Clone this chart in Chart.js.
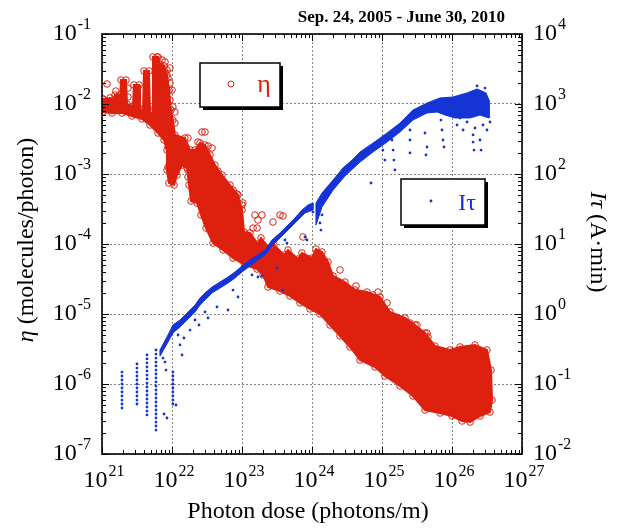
<!DOCTYPE html>
<html><head><meta charset="utf-8">
<script src="https://cdn.jsdelivr.net/npm/chart.js@4/dist/chart.umd.min.js"></script>
<style>html,body{margin:0;padding:0;background:#fff}canvas{display:block}</style>
</head><body>
<canvas id="c" width="621" height="528"></canvas>
<script>
// ---------- axis ranges and tick labels ----------
const xTickValues = [1e21, 1e22, 1e23, 1e24, 1e25, 1e26, 1e27];
const xTickExps   = ['21', '22', '23', '24', '25', '26', '27'];
const etaTickValues = [1e-7, 1e-6, 1e-5, 1e-4, 1e-3, 1e-2, 1e-1];
const etaTickExps   = ['-7', '-6', '-5', '-4', '-3', '-2', '-1'];
const itTickValues = [1e-2, 1e-1, 1e0, 1e1, 1e2, 1e3, 1e4];
const itTickExps   = ['-2', '-1', '0', '1', '2', '3', '4'];
const minorMultipliers = [2, 3, 4, 5, 6, 7, 8, 9];

const titleText = 'Sep. 24, 2005 - June 30, 2010';
const xTitle = 'Photon dose (photons/m)';

// ---------- η (molecules/photon): dense band outline (upper edge, lower edge) ----------
const etaBandUpperX = [1.03e21,1.30e21,1.48e21,1.53e21,1.75e21,1.81e21,1.87e21,2.20e21,2.28e21,2.77e21,2.86e21,3.38e21,3.49e21,3.85e21,3.98e21,4.69e21,4.85e21,5.18e21,5.35e21,6.31e21,6.74e21,7.69e21,8.48e21,9.06e21,9.67e21,1.03e22,1.10e22,1.53e22,1.81e22,2.13e22,2.51e22,2.96e22,3.49e22,4.11e22,5.18e22,6.74e22,8.77e22,1.00e23,1.07e23,1.30e23,1.69e23,1.87e23,2.51e23,2.86e23,3.98e23,4.54e23,6.31e23,7.20e23,1.00e24,1.14e24,1.39e24,1.69e24,2.00e24,2.96e24,4.11e24,6.11e24,9.36e24,1.30e25,2.13e25,2.96e25,4.11e25,5.71e25,9.36e25,1.30e26,2.13e26,3.16e26,3.61e26,3.73e26];
const etaBandUpperY = [1.18e-2,1.22e-2,1.14e-2,1.34e-2,1.34e-2,1.07e-2,2.20e-2,2.20e-2,1.00e-2,9.36e-3,1.87e-2,1.87e-2,8.48e-3,8.21e-3,2.96e-2,2.96e-2,7.69e-3,7.44e-3,4.69e-2,4.69e-2,3.73e-2,3.49e-2,2.60e-2,1.58e-2,8.21e-3,5.90e-3,3.61e-3,3.27e-3,2.20e-3,2.20e-3,2.77e-3,2.60e-3,1.87e-3,1.34e-3,9.67e-4,6.96e-4,5.01e-4,3.06e-4,1.48e-4,1.44e-4,1.00e-4,1.22e-4,8.48e-5,9.67e-5,6.96e-5,8.21e-5,6.11e-5,7.44e-5,6.31e-5,8.48e-5,7.69e-5,5.53e-5,3.49e-5,2.86e-5,2.20e-5,2.06e-5,1.75e-5,1.07e-5,8.77e-6,6.96e-6,5.35e-6,3.49e-6,3.06e-6,3.38e-6,3.61e-6,3.06e-6,1.58e-6,5.90e-7];
const etaBandLowerX = [1.03e21,1.39e21,1.93e21,2.68e21,3.73e21,4.85e21,6.31e21,7.69e21,8.48e21,8.48e21,9.06e21,1.07e22,1.18e22,1.39e22,1.64e22,1.75e22,1.87e22,2.28e22,2.60e22,3.06e22,3.85e22,5.35e22,7.44e22,1.10e23,1.64e23,2.00e23,2.35e23,3.49e23,4.85e23,6.74e23,9.36e23,1.30e24,1.81e24,2.51e24,3.49e24,4.85e24,7.94e24,1.10e25,1.81e25,2.77e25,4.11e25,6.74e25,1.00e26,1.39e26,1.81e26,2.51e26,3.49e26];
const etaBandLowerY = [7.69e-3,7.44e-3,7.44e-3,6.74e-3,6.11e-3,5.01e-3,3.85e-3,3.06e-3,2.20e-3,1.14e-3,7.44e-4,6.96e-4,9.67e-4,1.34e-3,1.22e-3,6.96e-4,4.11e-4,3.85e-4,2.60e-4,1.69e-4,1.03e-4,8.21e-5,6.31e-5,5.01e-5,4.39e-5,3.61e-5,2.43e-5,2.13e-5,1.81e-5,1.44e-5,1.18e-5,1.00e-5,6.96e-6,4.85e-6,3.38e-6,2.20e-6,1.75e-6,1.30e-6,9.36e-7,6.74e-7,4.25e-7,3.85e-7,3.49e-7,2.96e-7,2.86e-7,3.49e-7,3.98e-7];

// ---------- η: scattered open circles outside the dense band ----------
const etaOutX = [1.18e21,1.58e21,2.35e21,2.35e21,4.39e21,4.85e21,6.11e21,7.20e21,7.94e21,8.48e21,7.94e21,9.36e21,8.77e21,9.36e21,1.00e22,8.48e21,9.36e21,1.03e22,1.10e22,1.10e22,8.77e21,8.77e21,1.69e22,2.35e22,2.68e22,2.96e22,3.27e22,3.73e22,1.69e22,1.69e22,4.54e22,4.11e22,4.39e22,3.85e22,7.44e22,8.48e22,7.20e22,7.20e22,1.00e23,5.35e22,5.18e22,1.03e23,1.53e23,1.93e23,1.69e23,3.49e23,3.85e23,2.77e23,1.44e23,1.64e23,7.44e23,1.03e24,1.53e24,2.51e24,4.25e24,4.85e24,2.77e24,7.44e24,8.77e24,1.18e25,1.39e25,1.64e25,2.51e25,3.16e25,4.39e25,4.54e25,2.77e25,6.11e25,8.48e25,1.18e26,2.28e26,2.68e26,2.96e26,3.16e26,3.27e26];
const etaOutY = [1.93e-2,1.53e-2,1.69e-2,1.26e-2,9.06e-3,8.21e-3,4.69e-2,4.25e-2,3.98e-2,3.06e-2,2.77e-2,3.27e-2,2.35e-2,2.00e-2,1.58e-2,1.58e-2,1.14e-2,9.06e-3,7.69e-3,5.35e-3,2.43e-3,1.26e-3,3.27e-3,2.86e-3,3.98e-3,3.98e-3,2.51e-3,2.35e-3,1.14e-3,9.06e-4,1.10e-3,7.44e-4,6.31e-4,5.01e-4,5.90e-4,5.18e-4,3.98e-4,3.38e-4,3.61e-4,3.38e-4,2.77e-4,3.85e-4,2.60e-4,2.60e-4,2.20e-4,2.60e-4,2.51e-4,2.06e-4,1.69e-4,1.69e-4,1.26e-4,5.90e-5,5.53e-5,4.25e-5,2.51e-5,1.26e-5,9.06e-6,1.87e-5,2.06e-5,1.44e-5,9.06e-6,8.77e-6,7.44e-6,6.96e-6,5.35e-6,4.69e-6,3.38e-6,2.77e-6,2.77e-6,2.43e-6,3.06e-6,2.77e-6,1.58e-6,1.14e-6,9.06e-7];

// ---------- Iτ (A·min): dense trail, first run (upper edge, lower edge) ----------
const itTrailAUpperX = [6.74e21,8.77e21,1.03e22,1.30e22,1.64e22,2.13e22,2.51e22,2.96e22,3.73e22,4.85e22,6.31e22,7.94e22,1.00e23,1.30e23,1.69e23,2.13e23,2.68e23,3.49e23,4.54e23,5.71e23,7.20e23,8.77e23,1.03e24];
const itTrailAUpperY = [0.306,0.501,0.696,0.821,1.03,1.34,1.69,2.00,2.43,2.86,3.38,3.98,4.85,5.90,6.96,8.21,11.4,14.4,18.7,23.5,30.6,36.1,38.5];
const itTrailALowerX = [6.74e21,8.77e21,1.03e22,1.30e22,1.64e22,2.13e22,2.51e22,2.96e22,3.73e22,4.85e22,6.31e22,7.94e22,1.00e23,1.30e23,1.69e23,2.13e23,2.68e23,3.49e23,4.54e23,5.71e23,7.94e23,1.03e24];
const itTrailALowerY = [0.251,0.398,0.535,0.652,0.821,1.07,1.34,1.58,2.00,2.35,2.77,3.27,3.98,4.85,5.90,6.96,9.36,12.2,15.8,20.0,27.7,30.6];

// ---------- Iτ: dense trail, second run ----------
const itTrailBUpperX = [1.14e24,1.39e24,2.00e24,2.77e24,3.73e24,4.85e24,7.44e24,1.18e25,1.81e25,2.77e25,4.39e25,6.74e25,1.03e26,1.64e26,2.28e26,3.06e26,3.38e26];
const itTrailBUpperY = [38.5,53.5,82.1,122,158,206,277,385,535,821,1030,1220,1260,1440,1640,1440,1140];
const itTrailBLowerX = [1.14e24,1.39e24,2.00e24,2.96e24,4.85e24,7.44e24,1.18e25,1.81e25,2.77e25,4.39e25,6.11e25,7.94e25,1.10e26,1.81e26,2.51e26,3.38e26];
const itTrailBLowerY = [18.7,33.8,59.0,93.6,148,206,286,398,590,744,769,696,631,631,696,631];

// ---------- Iτ: individual dots (streaks at low dose and scattered points) ----------
const itDotX = [
 1.93e21,1.93e21,1.93e21,1.93e21,1.93e21,1.93e21,1.93e21,1.93e21,1.93e21,1.93e21,
 3.16e21,3.16e21,3.16e21,3.16e21,3.16e21,3.16e21,3.16e21,3.16e21,3.16e21,3.16e21,3.16e21,
 4.39e21,4.39e21,4.39e21,4.39e21,4.39e21,4.39e21,4.39e21,4.39e21,4.39e21,4.39e21,4.39e21,4.39e21,4.39e21,4.39e21,4.39e21,4.39e21,
 5.90e21,5.90e21,5.90e21,5.90e21,5.90e21,5.90e21,5.90e21,5.90e21,5.90e21,5.90e21,5.90e21,5.90e21,5.90e21,5.90e21,5.90e21,5.90e21,5.90e21,5.90e21,5.90e21,5.90e21,5.90e21,
 1.03e22,1.03e22,1.03e22,1.03e22,1.03e22,1.03e22,1.03e22,1.03e22,1.03e22,
 6.96e21,7.44e21,7.94e21,8.21e21,7.69e21,8.48e21,1.14e22,
 1.22e22,1.30e22,1.39e22,1.48e22,1.81e22,2.13e22,2.43e22,2.96e22,3.27e22,4.39e22,6.31e22,8.77e22,7.44e22,1.39e23,1.69e23,1.93e23,3.16e23,3.85e23,4.11e23,4.39e23,7.94e23,8.48e23,1.03e24,1.30e24,1.34e24,1.39e24,
 1.03e25,1.10e25,1.39e25,1.44e25,1.48e25,1.53e25,2.51e25,2.51e25,2.51e25,4.11e25,4.39e25,4.25e25,6.96e25,7.20e25,7.44e25,7.69e25,2.00e26,2.00e26,2.06e26,2.51e26,2.60e26,6.96e24,1.10e26,1.30e26,2.96e26,3.27e26,2.35e26,1.81e26,2.28e26,2.96e26,
 1.18e26,1.44e26,1.64e26,2.77e26,3.16e26,3.49e26,2.13e26
];
const itDotY = [
 0.148,0.130,0.114,0.1,0.0877,0.0769,0.0674,0.059,0.0518,0.0454,
 0.193,0.169,0.148,0.130,0.114,0.1,0.0877,0.0769,0.0674,0.059,0.0518,
 0.260,0.228,0.200,0.175,0.153,0.134,0.118,0.103,0.0906,0.0794,0.0696,0.0611,0.0535,0.0469,0.0411,0.0361,
 0.306,0.268,0.235,0.206,0.181,0.158,0.139,0.122,0.107,0.0936,0.0821,0.072,0.0631,0.0553,0.0485,0.0425,0.0373,0.0327,0.0286,0.0251,0.022,
 0.148,0.130,0.114,0.1,0.0877,0.0769,0.0674,0.059,0.0518,
 0.286,0.235,0.206,0.158,0.0373,0.0327,0.0501,
 0.501,0.361,0.260,0.454,0.590,0.821,0.696,1.07,0.877,1.26,1.14,1.75,2.20,3.61,3.38,3.49,4.54,2.20,11.4,10.3,12.6,11.4,28.6,20.0,15.8,26.0,
 220,158,306,220,158,114,425,306,200,385,243,187,590,425,306,243,361,286,220,306,220,74.4,769,631,967,821,1340,1140,1810,1690,
 501,425,553,501,425,553,454
];

// ---------- build library data from the arrays ----------
const RED = '#de200e';
const BLUE = '#1434d6';
const FONT = '"Liberation Serif", "Times New Roman", serif';

function pts(xs, ys) { return xs.map((x, i) => ({x, y: ys[i]})); }
function closedOutline(ux, uy, lx, ly) {
  const up = pts(ux, uy);
  const lo = pts(lx, ly).reverse();
  return up.concat(lo, [up[0]]);
}

const etaOutline = closedOutline(etaBandUpperX, etaBandUpperY, etaBandLowerX, etaBandLowerY);
const itOutlineA = closedOutline(itTrailAUpperX, itTrailAUpperY, itTrailALowerX, itTrailALowerY);
const itOutlineB = closedOutline(itTrailBUpperX, itTrailBUpperY, itTrailBLowerX, itTrailBLowerY);

function powLabel(ctx, exp, x, y, align) {
  ctx.font = `24px ${FONT}`;
  const w1 = ctx.measureText('10').width;
  ctx.font = `16px ${FONT}`;
  const w2 = ctx.measureText(exp).width;
  const total = w1 + 1 + w2;
  const x0 = align === 'right' ? x - total : (align === 'left' ? x : x - total / 2);
  ctx.textAlign = 'left';
  ctx.textBaseline = 'alphabetic';
  ctx.font = `24px ${FONT}`;
  ctx.fillText('10', x0, y);
  ctx.font = `16px ${FONT}`;
  ctx.fillText(exp, x0 + w1 + 1, y - 11);
}

function richText(ctx, parts, x, y) {
  let total = 0;
  parts.forEach(p => { ctx.font = p.font; p.w = ctx.measureText(p.t).width; total += p.w; });
  let cx = x - total / 2;
  ctx.textAlign = 'left';
  parts.forEach(p => { ctx.font = p.font; ctx.fillText(p.t, cx, y); cx += p.w; });
}

const decorPlugin = {
  id: 'decor',
  afterDraw(chart) {
    const {ctx, chartArea: a} = chart;
    const sx = chart.scales.x, sy = chart.scales.y, sy2 = chart.scales.y2;
    ctx.save();
    ctx.strokeStyle = '#000';
    ctx.lineWidth = 1;
    // ticks on all four sides, pointing inward
    ctx.beginPath();
    xTickValues.forEach((d, i) => {
      const mults = i < xTickValues.length - 1 ? [1].concat(minorMultipliers) : [1];
      mults.forEach(m => {
        const px = Math.round(sx.getPixelForValue(d * m)) + 0.5;
        const len = m === 1 ? 7 : 4;
        ctx.moveTo(px, a.bottom); ctx.lineTo(px, a.bottom - len);
        ctx.moveTo(px, a.top); ctx.lineTo(px, a.top + len);
      });
    });
    etaTickValues.forEach((d, i) => {
      const mults = i < etaTickValues.length - 1 ? [1].concat(minorMultipliers) : [1];
      mults.forEach(m => {
        const py = Math.round(sy.getPixelForValue(d * m)) + 0.5;
        const len = m === 1 ? 7 : 4;
        ctx.moveTo(a.left, py); ctx.lineTo(a.left + len, py);
      });
    });
    itTickValues.forEach((d, i) => {
      const mults = i < itTickValues.length - 1 ? [1].concat(minorMultipliers) : [1];
      mults.forEach(m => {
        const py = Math.round(sy2.getPixelForValue(d * m)) + 0.5;
        const len = m === 1 ? 7 : 4;
        ctx.moveTo(a.right, py); ctx.lineTo(a.right - len, py);
      });
    });
    ctx.stroke();
    // frame
    ctx.lineWidth = 1.6;
    ctx.strokeRect(a.left, a.top, a.right - a.left, a.bottom - a.top);

    // tick labels
    ctx.fillStyle = '#000';
    xTickValues.forEach((v, i) => powLabel(ctx, xTickExps[i], sx.getPixelForValue(v) + 2, a.bottom + 33, 'center'));
    etaTickValues.forEach((v, i) => powLabel(ctx, etaTickExps[i], a.left - 11, sy.getPixelForValue(v) + 6, 'right'));
    itTickValues.forEach((v, i) => powLabel(ctx, itTickExps[i], a.right + 11, sy2.getPixelForValue(v) + 6, 'left'));

    // axis titles
    ctx.textBaseline = 'alphabetic';
    richText(ctx, [{t: xTitle, font: `24px ${FONT}`}], (a.left + a.right) / 2 - 4, 518);
    ctx.save();
    ctx.translate(33, (a.top + a.bottom) / 2 - 4);
    ctx.rotate(-Math.PI / 2);
    richText(ctx, [{t: 'η', font: `italic 24px ${FONT}`}, {t: ' (molecules/photon)', font: `24px ${FONT}`}], 0, 0);
    ctx.restore();
    ctx.save();
    ctx.translate(591, (a.top + a.bottom) / 2 - 2);
    ctx.rotate(Math.PI / 2);
    richText(ctx, [{t: 'Iτ', font: `italic 24px ${FONT}`}, {t: ' (A·min)', font: `24px ${FONT}`}], 0, 0);
    ctx.restore();

    // date range title
    ctx.font = `bold 17px ${FONT}`;
    ctx.textAlign = 'right';
    ctx.fillText(titleText, 505, 22);

    // legend boxes
    function box(x, y, w, h) {
      ctx.fillStyle = '#000';
      ctx.fillRect(x + 3, y + 3, w, h);
      ctx.fillStyle = '#fff';
      ctx.fillRect(x, y, w, h);
      ctx.lineWidth = 1.5;
      ctx.strokeStyle = '#000';
      ctx.strokeRect(x, y, w, h);
    }
    const bx1 = a.left + 98, by1 = a.top + 29;
    box(bx1, by1, 80, 44);
    ctx.strokeStyle = RED; ctx.lineWidth = 1;
    ctx.beginPath(); ctx.arc(bx1 + 31, by1 + 21, 3, 0, Math.PI * 2); ctx.stroke();
    ctx.fillStyle = RED; ctx.textAlign = 'center';
    ctx.font = `26px ${FONT}`;
    ctx.fillText('η', bx1 + 64, by1 + 29);

    const bx2 = a.left + 299, by2 = a.top + 145;
    box(bx2, by2, 84, 46);
    ctx.fillStyle = BLUE;
    ctx.beginPath(); ctx.arc(bx2 + 30, by2 + 22, 1.4, 0, Math.PI * 2); ctx.fill();
    ctx.textAlign = 'center';
    ctx.font = `24px ${FONT}`;
    ctx.fillText('Iτ', bx2 + 66, by2 + 31);
    ctx.restore();
  }
};

new Chart(document.getElementById('c'), {
  type: 'scatter',
  data: {
    datasets: [
      { label: 'Iτ trail 1', data: itOutlineA, yAxisID: 'y2', showLine: true, fill: 'shape',
        backgroundColor: BLUE, borderColor: BLUE, borderWidth: 1, pointRadius: 0, order: 1 },
      { label: 'Iτ trail 2', data: itOutlineB, yAxisID: 'y2', showLine: true, fill: 'shape',
        backgroundColor: BLUE, borderColor: BLUE, borderWidth: 1, pointRadius: 0, order: 1 },
      { label: 'Iτ', data: pts(itDotX, itDotY), yAxisID: 'y2', pointRadius: 1.4, pointBorderWidth: 0,
        pointBackgroundColor: BLUE, backgroundColor: BLUE, order: 1 },
      { label: 'η band', data: etaOutline, yAxisID: 'y', showLine: true, fill: 'shape',
        backgroundColor: RED, borderColor: RED, borderWidth: 2,
        pointRadius: 3.3, pointBorderWidth: 1, pointBorderColor: RED, pointBackgroundColor: 'rgba(0,0,0,0)', order: 2 },
      { label: 'η', data: pts(etaOutX, etaOutY), yAxisID: 'y',
        pointRadius: 3.3, pointBorderWidth: 1, pointBorderColor: RED, pointBackgroundColor: 'rgba(0,0,0,0)', order: 2 }
    ]
  },
  options: {
    responsive: false,
    animation: false,
    devicePixelRatio: 1,
    layout: { padding: { left: 102, top: 34, right: 99, bottom: 74 } },
    plugins: { legend: { display: false }, tooltip: { enabled: false }, title: { display: false } },
    scales: {
      x: {
        type: 'logarithmic', position: 'bottom', min: xTickValues[0], max: xTickValues[xTickValues.length - 1],
        ticks: { display: false },
        grid: { color: '#858585', lineWidth: 1, drawTicks: false },
        border: { display: false, dash: [2, 2] },
        afterBuildTicks: s => { s.ticks = xTickValues.map(v => ({ value: v })); },
        afterFit: s => { s.height = 0; }
      },
      y: {
        type: 'logarithmic', position: 'left', min: etaTickValues[0], max: etaTickValues[etaTickValues.length - 1],
        ticks: { display: false },
        grid: { color: '#858585', lineWidth: 1, drawTicks: false },
        border: { display: false, dash: [2, 2] },
        afterBuildTicks: s => { s.ticks = etaTickValues.map(v => ({ value: v })); },
        afterFit: s => { s.width = 0; }
      },
      y2: {
        type: 'logarithmic', position: 'right', min: itTickValues[0], max: itTickValues[itTickValues.length - 1],
        ticks: { display: false },
        grid: { display: false, drawTicks: false },
        border: { display: false },
        afterBuildTicks: s => { s.ticks = itTickValues.map(v => ({ value: v })); },
        afterFit: s => { s.width = 0; }
      }
    }
  },
  plugins: [decorPlugin]
});
</script>
</body></html>
